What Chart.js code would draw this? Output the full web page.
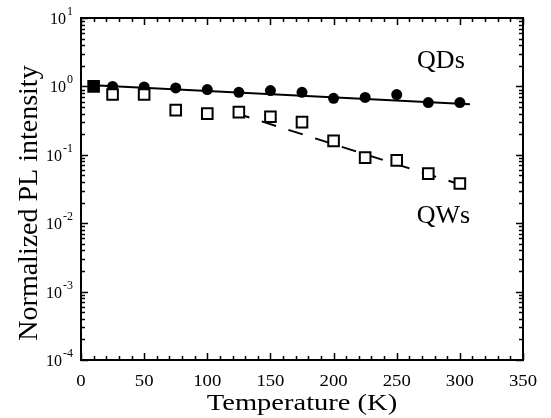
<!DOCTYPE html>
<html>
<head>
<meta charset="utf-8">
<script src="https://cdn.jsdelivr.net/npm/chart.js@4.4.1/dist/chart.umd.min.js"></script>
<style>
  html, body { margin: 0; padding: 0; background: #fff; }
  #wrap { width: 551px; height: 418px; }
</style>
</head>
<body>
<div id="wrap"><canvas id="plChart" width="551" height="418"></canvas></div>
<script>
// temperatures (K)
const temps = [10, 25, 50, 75, 100, 125, 150, 175, 200, 225, 250, 275, 300];
// normalized PL intensity
const qdValues = [1.0, 1.0, 0.98, 0.95, 0.90, 0.82, 0.87, 0.82, 0.67, 0.69, 0.76, 0.58, 0.58];
const qwValues = [1.0, 0.76, 0.76, 0.45, 0.40, 0.42, 0.36, 0.30, 0.16, 0.091, 0.083, 0.053, 0.038];
// fitted lines (end points)
const qdFitT = [10, 308];
const qdFitY = [1.04, 0.55];
const qwFitT = [122, 306];
const qwFitY = [0.41, 0.034];
// axis ticks
const xTicks = [0, 50, 100, 150, 200, 250, 300, 350];
const yExponents = [-4, -3, -2, -1, 0, 1];
// texts
const xTitle = 'Temperature (K)';
const yTitle = 'Normalized PL intensity';
const curveLabels = [
    { text: 'QDs', t: 285, v: 2.3 },
    { text: 'QWs', t: 287, v: 0.0125 }
];

const serif = '"Liberation Serif", "DejaVu Serif", serif';

const toPoints = (xs, ys) => xs.map((x, i) => ({ x: x, y: ys[i] }));

// text that is a bit wider than the font (the x axis of the original is stretched)
function wideText(ctx, text, x, y, sx) {
    ctx.save();
    ctx.translate(x, y);
    ctx.scale(sx, 1);
    ctx.fillText(text, 0, 0);
    ctx.restore();
}

// inward ticks on all four sides, the frame, tick labels and titles
const framePlugin = {
    id: 'frame',
    afterDraw(chart) {
        const ctx = chart.ctx;
        const area = chart.chartArea;
        const xs = chart.scales.x;
        const ys = chart.scales.y;
        ctx.save();
        ctx.strokeStyle = '#000';
        ctx.lineWidth = 1.5;
        ctx.beginPath();
        // x ticks: minor every 10, major every 50
        for (let t = xs.min; t <= xs.max; t += 10) {
            const px = Math.round(xs.getPixelForValue(t)) + 0.5;
            const len = (t % 50 === 0) ? 7 : 4;
            ctx.moveTo(px, area.bottom); ctx.lineTo(px, area.bottom - len);
            ctx.moveTo(px, area.top); ctx.lineTo(px, area.top + len);
        }
        // y ticks: decades major, 2..9 minor
        yExponents.forEach(e => {
            for (let m = 1; m <= 9; m++) {
                const v = m * Math.pow(10, e);
                if (v > ys.max * 1.0001) break;
                const py = Math.round(ys.getPixelForValue(v)) + 0.5;
                const len = m === 1 ? 7 : 4;
                ctx.moveTo(area.left, py); ctx.lineTo(area.left + len, py);
                ctx.moveTo(area.right, py); ctx.lineTo(area.right - len, py);
            }
        });
        ctx.stroke();

        ctx.lineWidth = 2;
        ctx.strokeRect(area.left, area.top, area.right - area.left, area.bottom - area.top);

        ctx.fillStyle = '#000';

        // y tick labels 10^n
        ctx.textBaseline = 'alphabetic';
        ctx.textAlign = 'left';
        yExponents.forEach(e => {
            const py = ys.getPixelForValue(Math.pow(10, e));
            const sup = String(e);
            ctx.font = '12px ' + serif;
            const supW = ctx.measureText(sup).width;
            ctx.font = '16px ' + serif;
            const baseW = ctx.measureText('10').width;
            const right = area.left - 9;
            ctx.fillText('10', right - supW - baseW, py + 6);
            ctx.font = '12px ' + serif;
            ctx.fillText(sup, right - supW + 1, py - 3);
        });

        // x tick labels
        ctx.font = '16px ' + serif;
        ctx.textAlign = 'center';
        ctx.textBaseline = 'alphabetic';
        xTicks.forEach(t => {
            wideText(ctx, String(t), xs.getPixelForValue(t), area.bottom + 26, 1.17);
        });

        // x title
        ctx.font = '23px ' + serif;
        wideText(ctx, xTitle, (area.left + area.right) / 2, 410, 1.24);

        // y title
        ctx.save();
        ctx.font = '28px ' + serif;
        ctx.translate(37, 203);
        ctx.rotate(-Math.PI / 2);
        ctx.textAlign = 'center';
        ctx.textBaseline = 'alphabetic';
        ctx.fillText(yTitle, 0, 0);
        ctx.restore();

        // curve labels
        ctx.font = '26px ' + serif;
        ctx.textAlign = 'center';
        ctx.textBaseline = 'middle';
        curveLabels.forEach(l => {
            ctx.fillText(l.text, xs.getPixelForValue(l.t), ys.getPixelForValue(l.v));
        });
        ctx.restore();
    }
};

new Chart(document.getElementById('plChart'), {
    type: 'scatter',
    data: {
        datasets: [
            {
                label: 'QWs',
                data: toPoints(temps, qwValues),
                pointStyle: 'rect',
                pointRadius: 7.5,
                pointBorderWidth: 2,
                pointBorderColor: '#000',
                pointBackgroundColor: temps.map((t, i) => i === 0 ? '#000' : '#fff'),
                order: 1
            },
            {
                label: 'QDs',
                data: toPoints(temps, qdValues),
                pointStyle: 'circle',
                pointRadius: 5.5,
                pointBorderWidth: 0,
                pointBackgroundColor: '#000',
                order: 2
            },
            {
                label: 'QD fit',
                type: 'line',
                data: toPoints(qdFitT, qdFitY),
                borderColor: '#000',
                borderWidth: 2,
                pointRadius: 0,
                order: 3
            },
            {
                label: 'QW fit',
                type: 'line',
                data: toPoints(qwFitT, qwFitY),
                borderColor: '#000',
                borderWidth: 2,
                borderDash: [15, 13],
                pointRadius: 0,
                order: 4
            }
        ]
    },
    options: {
        responsive: false,
        animation: false,
        events: [],
        layout: { padding: { top: 18, right: 28, left: 0, bottom: 0 } },
        plugins: {
            legend: { display: false },
            tooltip: { enabled: false }
        },
        scales: {
            x: {
                type: 'linear',
                min: 0,
                max: 350,
                afterBuildTicks: axis => { axis.ticks = xTicks.map(v => ({ value: v })); },
                grid: { display: false, drawTicks: false },
                border: { display: false },
                ticks: { display: false },
                afterFit: axis => { axis.height = 58; }
            },
            y: {
                type: 'logarithmic',
                min: 1e-4,
                max: 10,
                grid: { display: false, drawTicks: false },
                border: { display: false },
                ticks: { display: false },
                afterFit: axis => { axis.width = 81; }
            }
        }
    },
    plugins: [framePlugin]
});
</script>
</body>
</html>
